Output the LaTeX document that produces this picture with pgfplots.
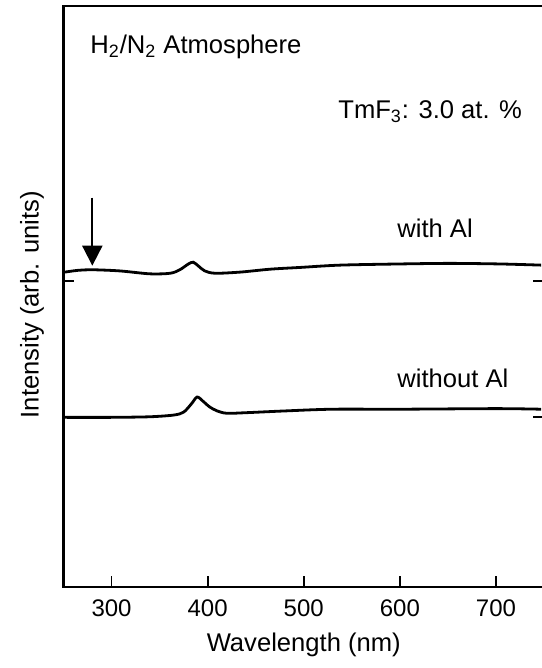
\documentclass[border=0pt]{standalone}
\usepackage{fontspec}
\setmainfont{Liberation Sans}
\usepackage{pgfplots}
\pgfplotsset{compat=1.18}
\usetikzlibrary{arrows.meta}
\begin{document}
\begin{tikzpicture}
\begin{axis}[
  at={(0pt,0pt)}, anchor=south west,
  scale only axis,
  width=240.25pt, height=290.5pt,
  xmin=250, xmax=750, ymin=0, ymax=100,
  xtick={300,400,500,600,700},
  xtick pos=bottom,
  ytick={29.3,52.7}, yticklabels={},
  ytick pos=both,
  tick align=inside,
  major tick length=5.5pt,
  tick style={line width=0.9pt, black},
  axis line style={line width=1.2pt},
  /pgf/number format/assume math mode=true,
  ticklabel style={font=\fontsize{12}{14}\selectfont},
  xticklabel style={anchor=center, yshift=-10.5pt},
  xlabel={Wavelength (nm)},
  ylabel={Intensity (arb. units)},
  label style={font=\fontsize{12.8}{15}\selectfont},
  xlabel style={at={(axis description cs:0.5,0)}, anchor=center, yshift=-29pt},
  ylabel style={at={([xshift=-15.75pt]axis description cs:0,0.486)}, anchor=center, rotate=0},
  clip=false,
]
\addplot[black, line width=1.4pt, smooth] coordinates {
(251.6,54.2) (265,54.5) (280.7,54.6) (308.8,54.4) (340,53.9) (361,54.0)
(371,54.6) (380,55.6) (385,55.9) (390,55.3) (397,54.4) (408,54.0)
(434,54.2) (465,54.7) (496,55.0) (538,55.4) (600,55.6) (652,55.7)
(704,55.6) (747,55.4)
};
\addplot[black, line width=1.4pt, smooth] coordinates {
(251.6,29.2) (300,29.2) (340,29.3) (365,29.6) (375,30.1) (383,31.5)
(389,32.7) (395,32.0) (402,31.0) (410,30.3) (420,29.9) (440,30.0)
(480,30.3) (530,30.6) (600,30.6) (700,30.7) (747,30.6)
};
\draw[-{Triangle[length=10pt,width=10pt]}, line width=1pt]
  (axis cs:280,67) -- (axis cs:280,55.3);
\node[anchor=base west, font=\fontsize{12.8}{15}\selectfont, inner sep=0pt]
  at (axis cs:277.5,91.9) {H\textsubscript{2}/N\textsubscript{2} Atmosphere};
\node[anchor=base west, font=\fontsize{12.8}{15}\selectfont, inner sep=0pt]
  at (axis cs:535.6,80.7) {TmF\textsubscript{3}: 3.0 at. \%};
\node[anchor=base west, font=\fontsize{12.8}{15}\selectfont, inner sep=0pt]
  at (axis cs:597,60.1) {with Al};
\node[anchor=base west, font=\fontsize{12.8}{15}\selectfont, inner sep=0pt]
  at (axis cs:597,34.4) {without Al};
\end{axis}
\pgfresetboundingbox
\path[use as bounding box] (-31.75pt,-40.5pt) rectangle (238.75pt,293.5pt);
\end{tikzpicture}
\end{document}
